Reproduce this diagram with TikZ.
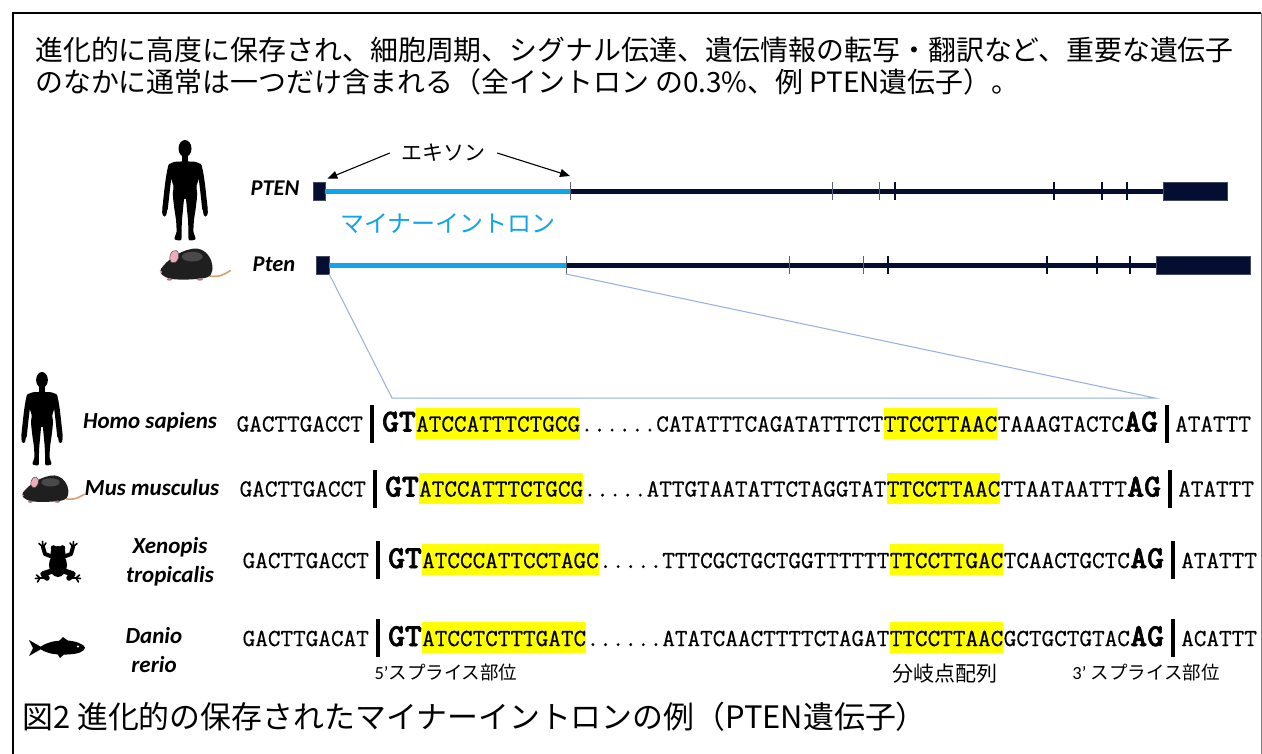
\documentclass[tikz,border=0pt]{standalone}
\usepackage{fontspec}
\setmainfont{Noto Sans CJK JP}
\newfontfamily\jpfont{Noto Sans CJK JP}
\newfontfamily\latfont{Carlito}
\newfontfamily\seqfont{Latin Modern Mono}[FakeBold=0.6]
\newfontfamily\seqboldfont{lmmonolt10-bold}[Extension=.otf, FakeBold=2]
\usetikzlibrary{arrows.meta}

\definecolor{navy}{RGB}{4,14,48}
\definecolor{intronblue}{RGB}{16,164,232}
\definecolor{zoomblue}{RGB}{150,175,222}
\definecolor{hlyellow}{RGB}{255,255,0}
\definecolor{tailtan}{RGB}{214,160,112}
\definecolor{earpink}{RGB}{238,172,182}
\definecolor{tickgray}{RGB}{88,94,124}

% one aligned sequence row: name, x of the 5' splice bar, baseline y,
% 5' exon, 5' motif, intron body, branch point, 3' tail, 3' exon
\newcommand{\seqrow}[9]{%
  \node[splitbar, anchor=center] (#1b) at (#2,#3-8) {};
  \node[seqtxt, anchor=base east] (#1l) at ([xshift=-7pt,yshift=-8pt]#1b.west) {#4};
  \node[seqbig] (#1gt) at ([xshift=8pt,yshift=-8pt]#1b.east) {GT};
  \node[seqhl] (#1h) at (#1gt.base east) {#5};
  \node[seqtxt] (#1m) at (#1h.base east) {#6};
  \node[seqhl] (#1p) at (#1m.base east) {#7};
  \node[seqtxt] (#1e) at (#1p.base east) {#8};
  \node[seqbig] (#1ag) at (#1e.base east) {AG};
  \node[splitbar] (#1c) at ([xshift=7pt,yshift=8pt]#1ag.base east) {};
  \node[seqtxt] (#1r) at ([xshift=6pt,yshift=-8pt]#1c.east) {#9};
}

\tikzset{
  hdr/.style={font=\jpfont\fontsize{27.9}{30}\selectfont, anchor=west, inner sep=0},
  species/.style={font=\latfont\bfseries\itshape\fontsize{23}{29}\selectfont, inner sep=0, align=center},
  genelbl/.style={font=\latfont\bfseries\itshape\fontsize{22.5}{24}\selectfont, inner sep=0},
  seqtxt/.style={font=\seqfont\fontsize{24.5}{25}\selectfont, inner sep=0, anchor=base west},
  seqhl/.style={seqtxt, fill=hlyellow, text height=24pt, text depth=7pt},
  seqbig/.style={font=\seqboldfont\fontsize{32}{32}\selectfont, inner sep=0, anchor=base west},
  splitbar/.style={fill=black, minimum width=3.5pt, minimum height=38pt, inner sep=0, anchor=west},
  exonbox/.style={fill=navy, draw=navy!75!white, line width=0.6pt, inner sep=0},
  bluintron/.style={intronblue, line width=5pt},
  darkintron/.style={navy, line width=5pt},
  thintick/.style={tickgray, line width=0.9pt},
  thicktick/.style={navy, line width=2.2pt},
  zoomln/.style={zoomblue, line width=1pt},
  exarrow/.style={-{Triangle[length=10pt,width=8pt]}, line width=1.1pt},
  splicelbl/.style={font=\jpfont\fontsize{18.5}{20}\selectfont, inner sep=0},
  human/.pic={
    \fill (0,8.5) ellipse [x radius=6.5, y radius=8.5];
    \fill (-3.2,14) rectangle (3.2,24);
    \fill plot[smooth cycle, tension=0.55] coordinates {(-11,22) (11,22) (15,27) (14.5,37) (11.5,46) (11.5,56) (0,59) (-11.5,56) (-11.5,46) (-14.5,37) (-15,27)};
    \foreach \s in {1,-1}{
      \fill[xscale=\s] plot[smooth cycle, tension=0.5] coordinates {(1,50) (11.5,52) (11,66) (9,80) (8.5,92) (10.5,99) (4,100) (3.5,92) (3,80) (1.5,64)};
      \draw[xscale=\s, line width=5.5pt, line cap=round] (14,26) .. controls (17,38) and (18,52) .. (20,69);
      \fill[xscale=\s] (20.5,72) ellipse [x radius=2.4, y radius=4.5];
    }
  },
  mouse/.pic={
    \draw[tailtan, line width=1.6pt, line cap=round] (50,25) .. controls (58,28) and (65,26) .. (74,21);
    \fill[black!88] plot[smooth cycle, tension=0.6] coordinates {(0,22) (4,16) (10,11) (18,6) (28,2) (39,0.5) (48,4) (54,12) (55,21) (50,27) (34,29) (16,29) (6,27)};
    \fill[black!55, opacity=0.5] (34,8) ellipse [x radius=11, y radius=4.5];
    \filldraw[earpink, draw=black!70, line width=0.5pt, rotate around={-20:(15,8)}] (15,8) ellipse [x radius=4.5, y radius=6];
    \fill[earpink] (0.8,22.2) circle [radius=1.3];
    \fill[earpink!70!black] (10,29) ellipse [x radius=2.8, y radius=1.2];
    \fill[earpink!70!black] (42,29) ellipse [x radius=3.2, y radius=1.2];
  },
  frog/.pic={
    \fill (0,3) ellipse [x radius=9, y radius=12];
    \fill (0,-9) ellipse [x radius=7.5, y radius=7];
    \fill (-4.5,-14) circle [radius=2.8];
    \fill (4.5,-14) circle [radius=2.8];
    \foreach \s in {1,-1}{
      \begin{scope}[xscale=\s]
        \draw[line width=4pt, line cap=round, line join=round] (5,-5) -- (13,-8) -- (15,-15);
        \foreach \p/\q in {12/-19, 15.5/-20.5, 19/-18.5}
          \draw[line width=1.6pt, line cap=round] (15,-15) -- (\p,\q);
        \draw[line width=5.5pt, line cap=round, line join=round] (6,9) -- (15,12) -- (11,16);
        \draw[line width=2.8pt, line cap=round] (11,16) -- (18,16);
        \foreach \p/\q in {21.5/13, 22.5/16.5, 20.5/20}
          \draw[line width=1.6pt, line cap=round] (18,16) -- (\p,\q);
      \end{scope}
    }
  },
  fish/.pic={
    \fill plot[smooth cycle, tension=0.6] coordinates {(11,0) (22,-6) (38,-7.5) (50,-5) (56,-0.5) (51,4.5) (38,6.5) (22,5.5)};
    \fill (0,-8) -- (14,0) -- (0,8) -- (4,0) -- cycle;
    \fill (29,-6) -- (34,-11) -- (40,-6.5) -- cycle;
    \fill (28,5) -- (31,10) -- (36,5.5) -- cycle;
    \fill[white] (49,-1.5) circle [radius=1.2];
  }
}

\begin{document}
\begin{tikzpicture}[x=1pt,y=-1pt]
\useasboundingbox (0,0) rectangle (1262,753);
\fill[white] (0,0) rectangle (1262,753);

% frame
\draw[line width=2pt] (13,770) -- (13,13) -- (1261,13);
\draw[gray, line width=1pt] (1261,13) -- (1261,770);

% heading
\node[hdr] (hd1) at (35,50) {進化的に高度に保存され、細胞周期、シグナル伝達、遺伝情報の転写・翻訳など、重要な遺伝子};
\node[hdr] (hd2) at (35,82) {のなかに通常は一つだけ含まれる（全イントロン の0.3\%、例 PTEN遺伝子）。};

% gene models
\pic at (185,140) {human};
\pic[xscale=0.95, yscale=1.08] at (160,248) {mouse};
\node[genelbl] (hg) at (275,188) {PTEN};
\node[genelbl] (mg) at (274,264) {Pten};

\node[exonbox, minimum width=12pt, minimum height=18pt] (hx1) at (319,191) {};
\node[exonbox, minimum width=64pt, minimum height=18pt] (hx9) at (1195,191) {};
\coordinate (hj) at (570,191);
\draw[bluintron] (hx1.east) -- (hj);
\draw[darkintron] (hj) -- (hx9.west);
\foreach \x in {570,832,879} \draw[thintick] (\x,182) -- (\x,200);
\foreach \x in {895,1054,1102,1127} \draw[thicktick] (\x,182) -- (\x,200);

\node[exonbox, minimum width=13pt, minimum height=18pt] (mx1) at (322.5,265) {};
\node[exonbox, minimum width=94pt, minimum height=18pt] (mx9) at (1203,265) {};
\coordinate (mj) at (566,265);
\draw[bluintron] (mx1.east) -- (mj);
\draw[darkintron] (mj) -- (mx9.west);
\foreach \x in {566,789,863} \draw[thintick] (\x,256) -- (\x,274);
\foreach \x in {888,1047,1097,1130} \draw[thicktick] (\x,256) -- (\x,274);

\node[font=\jpfont\fontsize{21}{22}\selectfont, inner sep=0] (exlbl) at (443,153) {エキソン};
\draw[exarrow] ([xshift=-11pt]exlbl.west) -- ([shift={(2,-3)}]hx1.north east);
\draw[exarrow] ([xshift=12pt]exlbl.east) -- ([yshift=15pt]hj);

\node[font=\jpfont\fontsize{24}{26}\selectfont, text=intronblue, inner sep=0] (mi) at (448,224) {マイナーイントロン};

% zoom onto the minor intron
\coordinate (zl) at (392,398);
\coordinate (zr) at (1155,398);
\draw[zoomln] (mx1.south east) -- (zl) -- (zr) -- ([yshift=-9pt]mj);

% species
\pic[xscale=0.9, yscale=0.93] at (42,372) {human};
\pic[xscale=0.84, yscale=0.92] at (22,475) {mouse};
\pic at (58,562) {frog};
\pic at (29,648) {fish};

\node[species] (sp1) at (150,422) {Homo sapiens};
\node[species] (sp2) at (152,488) {Mus musculus};
\node[species] (sp3) at (170,562) {Xenopis\\tropicalis};
\node[species] (sp4) at (154,650) {Danio\\rerio};

% aligned sequences
\seqrow{ra}{372}{431.5}{GACTTGACCT}{ATCCATTTCTGCG}{......CATATTTCAGATATTTCT}{TTCCTTAAC}{TAAAGTACTC}{ATATTT}
\seqrow{rb}{375}{496.5}{GACTTGACCT}{ATCCATTTCTGCG}{.....ATTGTAATATTCTAGGTAT}{TTCCTTAAC}{TTAATAATTT}{ATATTT}
\seqrow{rc}{378}{568}{GACTTGACCT}{ATCCCATTCCTAGC}{.....TTTCGCTGCTGGTTTTTT}{TTCCTTGAC}{TCAACTGCTC}{ATATTT}
\seqrow{rd}{378}{646}{GACTTGACAT}{ATCCTCTTTGATC}{......ATATCAACTTTTCTAGAT}{TTCCTTAAC}{GCTGCTGTAC}{ACATTT}

\node[splicelbl] (s5) at (446,672) {{\latfont 5’}スプライス部位};
\node[font=\jpfont\fontsize{21}{22}\selectfont, inner sep=0] (bp) at (945,674) {分岐点配列};
\node[splicelbl] (s3) at (1146,672) {{\latfont 3’} スプライス部位};

% caption
\node[hdr, font=\jpfont\fontsize{30.9}{32}\selectfont] (cap) at (22,717) {図2 進化的の保存されたマイナーイントロンの例（PTEN遺伝子）};
\end{tikzpicture}
\end{document}
